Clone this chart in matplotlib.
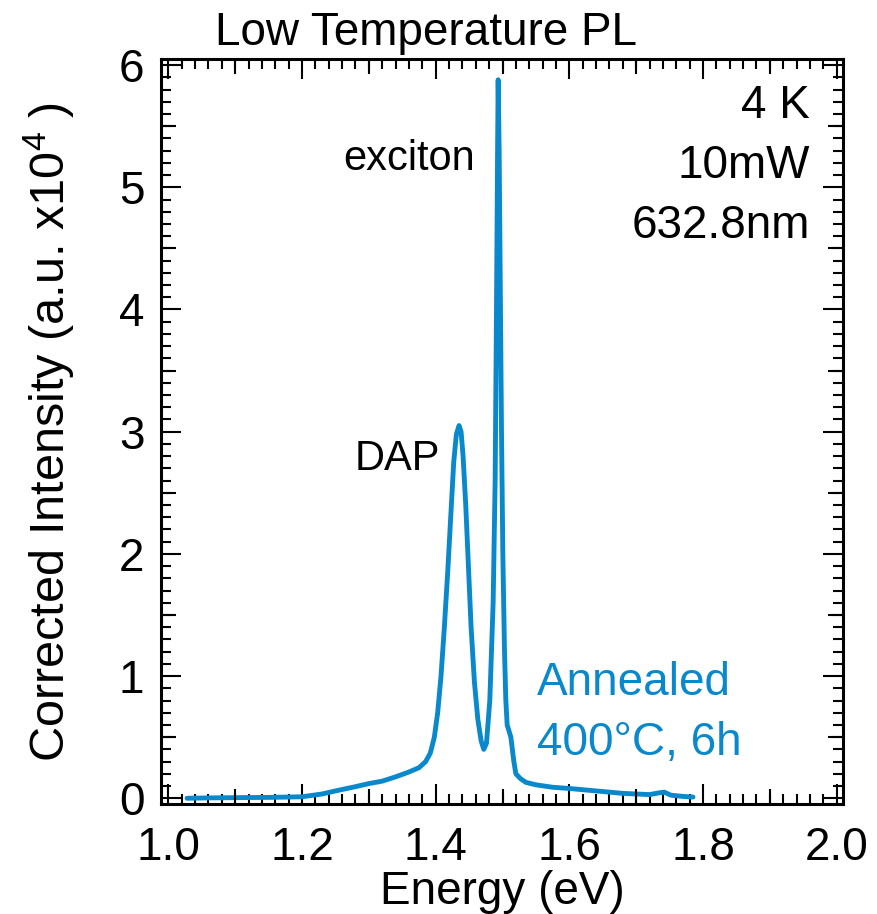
import matplotlib
matplotlib.use("Agg")
import matplotlib.pyplot as plt
import numpy as np

plt.rcParams['font.family'] = ['Liberation Sans', 'DejaVu Sans']
plt.rcParams['mathtext.fontset'] = 'custom'
plt.rcParams['mathtext.rm'] = 'Liberation Sans'
plt.rcParams['mathtext.default'] = 'regular'

# ---- data ----
energy = [1.028, 1.06, 1.10, 1.15, 1.20, 1.23, 1.25, 1.28, 1.30, 1.32, 1.34, 1.36,
          1.375, 1.385, 1.392, 1.398, 1.403, 1.408, 1.413, 1.418, 1.423, 1.427,
          1.431, 1.435, 1.438, 1.441, 1.445, 1.449, 1.453, 1.458, 1.463, 1.468,
          1.472, 1.476, 1.481, 1.486, 1.489, 1.491, 1.4925, 1.4935, 1.495, 1.4965,
          1.4985, 1.5005, 1.503, 1.505, 1.507, 1.5125, 1.517, 1.520, 1.527, 1.535,
          1.55, 1.575, 1.60, 1.64, 1.68, 1.72, 1.735, 1.742, 1.752, 1.77, 1.785]
intensity = [0.00, 0.003, 0.005, 0.007, 0.012, 0.035, 0.06, 0.095, 0.12, 0.14, 0.175, 0.215,
             0.25, 0.30, 0.37, 0.50, 0.70, 1.00, 1.40, 1.85, 2.35, 2.75,
             2.98, 3.05, 3.00, 2.80, 2.40, 1.90, 1.40, 0.95, 0.65, 0.47,
             0.40, 0.45, 0.80, 1.60, 2.60, 4.00, 5.20, 5.88, 5.30, 4.30,
             3.00, 2.00, 1.20, 0.80, 0.60, 0.50, 0.30, 0.20, 0.16, 0.13,
             0.11, 0.09, 0.08, 0.06, 0.04, 0.03, 0.045, 0.05, 0.025, 0.015, 0.01]

x_major = [1.0, 1.2, 1.4, 1.6, 1.8, 2.0]
x_labels = ['1.0', '1.2', '1.4', '1.6', '1.8', '2.0']
y_major = [0, 1, 2, 3, 4, 5, 6]
y_labels = ['0', '1', '2', '3', '4', '5', '6']
conditions = ['4 K', '10mW', '632.8nm']
sample = ['Annealed', '400°C, 6h']

blue = '#0a88cc'

fig = plt.figure(figsize=(8.77, 9.14), dpi=100)
pos = [161/877, 1-804/914, (843-161)/877, (804-59)/914]
ax = fig.add_axes(pos)
ax.plot(energy, intensity, color=blue, lw=3.5, solid_joinstyle='round',
        solid_capstyle='round', zorder=3)

xlim = (0.989, 2.0095)
ylim = (-0.047, 6.05)
ax.set_xlim(*xlim)
ax.set_ylim(*ylim)
ax.set_xticks(x_major)
ax.set_xticklabels(x_labels)
ax.set_yticks(y_major)
ax.set_yticklabels(y_labels)
ax.set_xticks(np.arange(1.0, 2.001, 0.02), minor=True)
ax.set_yticks(np.arange(0, 6.001, 0.1), minor=True)
ax.tick_params(which='both', direction='in', top=True, right=True, width=1.5, colors='black')
ax.tick_params(which='major', length=14.5, labelsize=33, pad=12)
ax.tick_params(axis='x', which='major', pad=16)
ax.tick_params(which='minor', length=7.5)
for s in ax.spines.values():
    s.set_linewidth(2.2)

# medium ticks
axm = fig.add_axes(pos, frameon=False)
axm.set_xlim(*xlim)
axm.set_ylim(*ylim)
axm.set_xticks(np.arange(1.1, 2.0, 0.2))
axm.set_yticks(np.arange(0.5, 6.0, 1.0))
axm.tick_params(direction='in', top=True, right=True, length=11, width=1.5,
                labelbottom=False, labelleft=False)
axm.patch.set_visible(False)

ax.set_xlabel('Energy (eV)', fontsize=33, labelpad=0)
ax.set_ylabel(r'Corrected Intensity (a.u. x10$^{4}$ )', fontsize=35, labelpad=30)

fig.text(426/877, 1-45/914, 'Low Temperature PL', fontsize=33, ha='center', va='baseline')

for i, t in enumerate(conditions):
    ax.text(0.9516, 0.9208 - i*0.0802, t, transform=ax.transAxes, fontsize=33,
            ha='right', va='baseline')
ax.text(1.360, 5.14, 'exciton', fontsize=30, ha='center', va='baseline')
ax.text(1.342, 2.687, 'DAP', fontsize=30, ha='center', va='baseline')
for i, t in enumerate(sample):
    ax.text(1.5513, 0.845 - i*0.49, t, fontsize=33, color=blue, ha='left', va='baseline')

fig.savefig('out.png', dpi=100)
